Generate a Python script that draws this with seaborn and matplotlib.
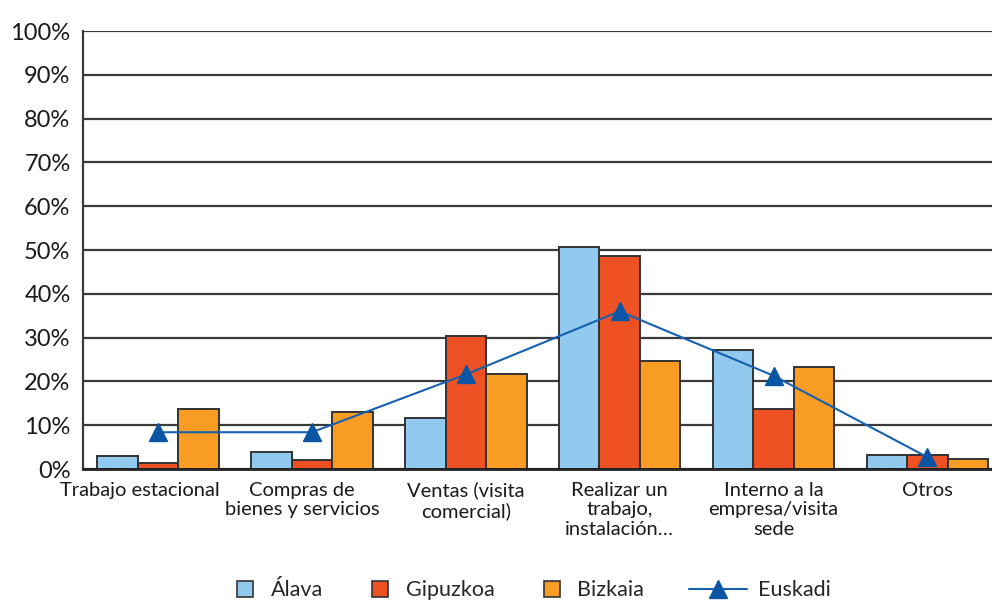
"""
Motivos de desplazamiento por territorio (Álava, Gipuzkoa, Bizkaia) y Euskadi
"""

import matplotlib.pyplot as plt
import seaborn as sns
import pandas as pd
from matplotlib.patches import Patch, Rectangle
from matplotlib.lines import Line2D
from matplotlib.legend_handler import HandlerPatch
from matplotlib.ticker import PercentFormatter
from matplotlib.transforms import ScaledTranslation

# Data (percent)
categories = [
    'Trabajo estacional',
    'Compras de\nbienes y servicios',
    'Ventas (visita\ncomercial)',
    'Realizar un\ntrabajo,\ninstalación…',
    'Interno a la\nempresa/visita\nsede',
    'Otros',
]
territories = ['Álava', 'Gipuzkoa', 'Bizkaia']
alava = [3.0, 3.9, 11.7, 50.8, 27.2, 3.2]
gipuzkoa = [1.4, 2.0, 30.4, 48.6, 13.8, 3.3]
bizkaia = [13.7, 13.0, 21.6, 24.7, 23.2, 2.3]
euskadi = [8.4, 8.4, 21.6, 36.0, 21.3, 2.7]
y_ticks = [0, 10, 20, 30, 40, 50, 60, 70, 80, 90, 100]

colors = {'Álava': '#92C9EE', 'Gipuzkoa': '#EE5224', 'Bizkaia': '#F89C24'}
line_color = '#1560B0'
marker_color = '#0B55A5'
grid_color = '#3a3a3a'

df = pd.DataFrame({
    'Motivo': categories * 3,
    'Territorio': [t for t in territories for _ in categories],
    'Valor': alava + gipuzkoa + bizkaia,
})

sns.set_style("white")
plt.rcParams['font.family'] = ['Lato', 'DejaVu Sans']

fig = plt.figure(figsize=(9.92, 6.01), dpi=100)
ax = fig.add_axes([0.0837, 0.2196, 0.9163, 0.7288])

ax.set_axisbelow(True)
ax.yaxis.grid(True, color=grid_color, linewidth=1.6)

sns.barplot(data=df, x='Motivo', y='Valor', hue='Territorio', order=categories,
            hue_order=territories, palette=colors, width=0.79, saturation=1,
            edgecolor='#333333', linewidth=1.4, legend=False, ax=ax)

ax.plot(range(len(categories)), euskadi, color=line_color, linewidth=1.5,
        marker='^', markersize=13, markerfacecolor=marker_color,
        markeredgecolor=marker_color, zorder=5)

ax.set_xlim(-0.488, 5.42)
ax.set_ylim(0, 100)
ax.set_yticks(y_ticks)
ax.yaxis.set_major_formatter(PercentFormatter(decimals=0))
ax.set_xlabel('')
ax.set_ylabel('')

for s in ['top', 'right']:
    ax.spines[s].set_visible(False)
ax.spines['left'].set_color(grid_color)
ax.spines['left'].set_linewidth(1.6)
ax.spines['bottom'].set_color('#222222')
ax.spines['bottom'].set_linewidth(2)

ax.tick_params(axis='y', length=7, width=1.6, color=grid_color, pad=2,
               labelsize=17, labelcolor='#1a1a1a')
ax.tick_params(axis='x', length=0, pad=9, labelsize=14.5, labelcolor='#1a1a1a')
# the first two labels sit a little to the left in the original
shifts = [-18, -10, 0, 0, 0, 0]
for lbl, dx in zip(ax.get_xticklabels(), shifts):
    lbl.set_linespacing(1.2)
    if dx:
        lbl.set_transform(lbl.get_transform() + ScaledTranslation(dx / 100, 0, fig.dpi_scale_trans))


def square_patch(legend, orig_handle, xdescent, ydescent, width, height, fontsize):
    size = height * 1.05
    return Rectangle((-xdescent, -ydescent - 0.02 * height), size, size)


patch_handles = [Patch(facecolor=colors[t], edgecolor='#333333', linewidth=1.2, label=t)
                 for t in territories]
leg1 = fig.legend(handles=patch_handles, loc='center left', bbox_to_anchor=(0.239, 0.0175),
                  ncol=3, frameon=False, fontsize=15.5, columnspacing=2.3,
                  handlelength=0.7, handleheight=0.7, handletextpad=0.85,
                  borderpad=0, borderaxespad=0,
                  handler_map={Patch: HandlerPatch(patch_func=square_patch)})

line_handle = Line2D([0], [0], color=line_color, linewidth=1.5, marker='^',
                     markersize=13, markerfacecolor=marker_color,
                     markeredgecolor=marker_color, label='Euskadi')
leg2 = fig.legend(handles=[line_handle], loc='center left', bbox_to_anchor=(0.6946, 0.0175),
                  frameon=False, fontsize=15.5, handlelength=2.7, handletextpad=0.5,
                  borderpad=0, borderaxespad=0)

plt.savefig('out.png', dpi=100)
plt.close()
